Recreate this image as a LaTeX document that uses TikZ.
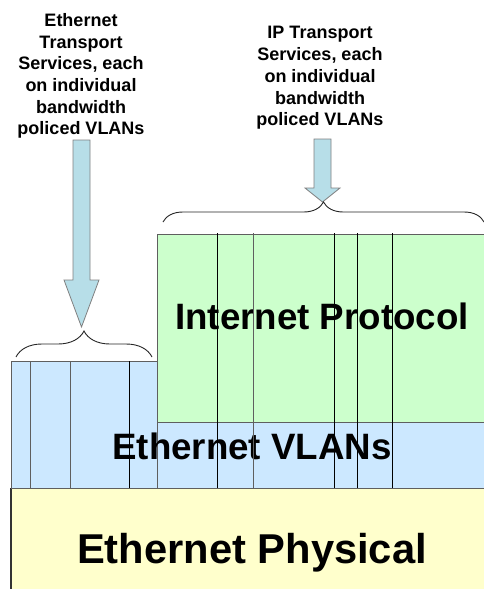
\documentclass[tikz,border=0pt]{standalone}
\usepackage{fontspec}
\setmainfont{Liberation Sans}
\usetikzlibrary{decorations.pathreplacing}
\definecolor{vlanblue}{HTML}{CCE8FF}
\definecolor{ipgreen}{HTML}{CCFFCC}
\definecolor{phyyellow}{HTML}{FFFFCC}
\definecolor{arrowblue}{HTML}{B7DEE8}
\definecolor{edgegray}{HTML}{5F5F5F}
\begin{document}
\begin{tikzpicture}[x=1pt, y=-1pt]
		\tikzset{lbl/.style={align=center, font=\bfseries\fontsize{18}{21.7}\selectfont, inner sep=0pt}};
		\tikzset{big/.style={anchor=base, font=\bfseries\fontsize{36.7}{40}\selectfont, inner sep=0pt}};
		\tikzset{blk/.style={draw=edgegray, line width=0.8pt}};
		\tikzset{fat/.style={fill=arrowblue, draw=gray, line width=0.8pt}};
		\tikzset{brc/.style={decorate, decoration={brace, amplitude=#1}, draw=black!85, line width=0.9pt}};

		\useasboundingbox (0,0) rectangle (484,589);
		\clip (0,0) rectangle (484,589);

		\fill[phyyellow] (11,488) rectangle (490,595);
		\draw[black!80, line width=1.6pt] (11,488) -- (11,595);
		\filldraw[blk, fill=vlanblue] (11,361) rectangle (157,488);
		\filldraw[blk, fill=vlanblue] (157,422) rectangle (490,488);
		\filldraw[blk, fill=ipgreen] (157,234) rectangle (490,422);

		\node[big] (ip) at (322,329) {Internet Protocol};
		\node[big] (vlan) at (252,459) {Ethernet VLANs};
		\node[big, font=\bfseries\fontsize{41.7}{45}\selectfont] (phy) at (252,563) {Ethernet Physical};

		\foreach \x/\c in {30/edgegray, 70/edgegray, 129/black}
			\draw[\c, line width=0.8pt] (\x,361) -- (\x,488);
		\foreach \x/\c in {217/black, 253/edgegray, 334/black, 357/black, 392/black}
			\draw[\c, line width=0.8pt] (\x,233) -- (\x,488);

		\node[lbl] (ethsvc) at (81,76) {Ethernet\\Transport\\Services, each\\on individual\\bandwidth\\policed VLANs};
		\node[lbl] (ipsvc) at (320,78) {IP Transport\\Services, each\\on individual\\bandwidth\\policed VLANs};

		\draw[fat] (73,140) -- (90,140) -- (90,280) -- (99,280) -- (81.5,327) -- (64,280) -- (73,280) -- cycle;
		\draw[fat] (314,139) -- (331,139) -- (331,188) -- (340,188) -- (322.5,202) -- (305,188) -- (314,188) -- cycle;

		\draw[brc=26pt] (16,357) -- (152,357);
		\draw[brc=20pt] (163,222) -- (484,222);

	\end{tikzpicture}
\end{document}
